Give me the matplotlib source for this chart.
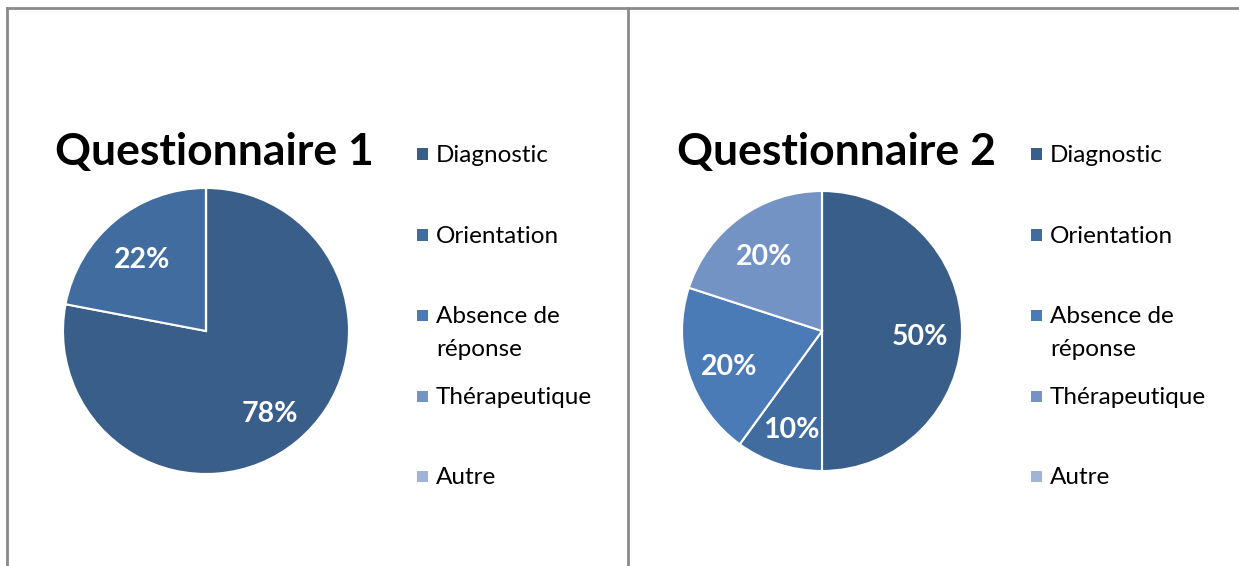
import matplotlib.pyplot as plt
from matplotlib.patches import Rectangle
from matplotlib.lines import Line2D

# data
categories = ["Diagnostic", "Orientation", "Absence de\nréponse", "Thérapeutique", "Autre"]
q1_values = [78, 22, 0, 0, 0]
q2_values = [50, 10, 20, 20, 0]
titles = ["Questionnaire 1", "Questionnaire 2"]

colors = ["#3A5E8A", "#416CA0", "#4A7BB6", "#7393C5", "#A0B4D7"]

W, H = 1239, 566
fig = plt.figure(figsize=(W / 100, H / 100), dpi=100)
plt.rcParams['font.family'] = ['Lato', 'DejaVu Sans']


def fx(px):
    return px / W


def fy(py):
    return 1 - py / H


# frame lines
frame_col = "#8a8a8a"
for xs, ys in [((7, W), (8, 8)), ((7, 7), (8, H)), ((628, 628), (8, H))]:
    fig.add_artist(Line2D([fx(x) for x in xs], [fy(y) for y in ys], color=frame_col, lw=2))


def pct_label(p):
    return "%d%%" % round(p) if p > 0.5 else ""


def draw_panel(values, title, cx, cy, r, title_x, leg_x):
    ax = fig.add_axes([fx(cx - r), fy(cy + r), 2 * r / W, 2 * r / H])
    wedges, texts, autotexts = ax.pie(
        values, colors=colors, startangle=90, counterclock=False,
        autopct=pct_label, pctdistance=0.7,
        wedgeprops=dict(edgecolor="white", linewidth=1.5),
        textprops=dict(color="white", fontsize=20.5, fontweight="bold"))
    # excel sits the labels a little lower
    for t in autotexts:
        x, y = t.get_position()
        t.set_position((x, y - 0.04))
    ax.set_xlim(-1, 1)
    ax.set_ylim(-1, 1)

    fig.text(fx(title_x), fy(165), title, fontsize=32, fontweight="bold",
             ha="center", va="baseline", color="black")

    ys = [154, 235, 315, 396, 476]
    for lab, col, y in zip(categories, colors, ys):
        fig.add_artist(Rectangle((fx(leg_x), fy(y + 5.5)), 11 / W, 11 / H,
                                 facecolor=col, edgecolor="none"))
        for i, line in enumerate(lab.split("\n")):
            fig.text(fx(leg_x + 19), fy(y + 8 + 33 * i), line, fontsize=17.5,
                     ha="left", va="baseline", color="black")


draw_panel(q1_values, titles[0], 206, 331, 143, 214, 417)
draw_panel(q2_values, titles[1], 822, 331, 140, 836, 1031)

fig.savefig("out.png", dpi=100, facecolor="white")
